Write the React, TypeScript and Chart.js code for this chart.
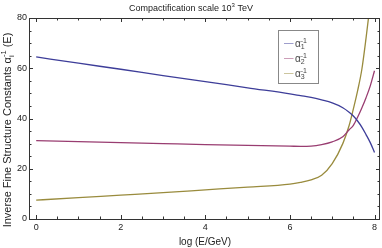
import React, { useEffect, useRef } from "react";
import { Chart, registerables } from "chart.js";

Chart.register(...registerables);

// ---- data ----
const LOG_E = [0, 1, 2, 3, 4, 5, 6, 6.25, 6.5, 6.75, 7, 7.25, 7.4, 7.5, 7.6, 7.7, 7.8, 7.9, 8];
const ALPHA1_INV = [64.5, 62.0, 59.6, 57.1, 54.7, 52.2, 49.8, 49.1, 48.4, 47.4, 46.2, 44.3, 42.5, 41.0, 39.0, 36.6, 33.6, 30.4, 26.5];
const ALPHA2_INV = [31.2, 30.8, 30.4, 30.0, 29.6, 29.3, 29.0, 28.9, 29.0, 29.6, 30.7, 32.7, 35.5, 37.3, 40.5, 44.2, 48.3, 53.0, 59.0];
const ALPHA3_INV = [7.5, 8.5, 9.5, 10.5, 11.6, 12.7, 13.9, 14.6, 15.6, 17.4, 22.0, 30.0, 37.2, 43.8, 51.0, 59.5, 72.0, 86.0, 100.0];
const X_TICKS = [0, 2, 4, 6, 8];
const Y_TICKS = [0, 20, 40, 60, 80];
const SERIES_SUBSCRIPTS = ["1", "2", "3"];
const TITLE_MAIN = "Compactification scale 10";
const TITLE_SUP = "3";
const TITLE_END = " TeV";
const X_TITLE = "log (E/GeV)";
const Y_TITLE_PRE = "Inverse Fine Structure Constants ";
const Y_TITLE_POST = " (E)";

const COLORS = ["#3d3d99", "#993d71", "#998b3d"];
const LEGEND_COLORS = ["#9e9ecc", "#cc9eb8", "#ccc59e"];
const FONT = "'Liberation Sans', Arial, sans-serif";
const TEXT = "#222";
const FRAME = "#333";

function drawAlpha(ctx: CanvasRenderingContext2D, x: number, y: number, sub: string, big: number, small: number) {
  ctx.textBaseline = "alphabetic";
  ctx.textAlign = "left";
  ctx.font = `${big}px ${FONT}`;
  ctx.fillText("α", x, y);
  const aw = ctx.measureText("α").width;
  ctx.font = `${small}px ${FONT}`;
  ctx.fillText(sub, x + aw, y + small * 0.35);
  ctx.fillText("-1", x + aw, y - big * 0.45);
  const w = Math.max(ctx.measureText(sub).width, ctx.measureText("-1").width);
  return aw + w;
}

const decoPlugin = {
  id: "deco",
  afterDraw(chart: any) {
    const ctx: CanvasRenderingContext2D = chart.ctx;
    const { left, right, top, bottom } = chart.chartArea;
    const xs = chart.scales.x;
    const ys = chart.scales.y;
    ctx.save();
    ctx.strokeStyle = FRAME;
    ctx.lineWidth = 1;
    ctx.strokeRect(Math.round(left) + 0.5, Math.round(top) + 0.5, Math.round(right - left) - 1, Math.round(bottom - top));
    ctx.beginPath();
    for (let v = 0; v <= 8.001; v += 0.5) {
      const px = Math.round(xs.getPixelForValue(v)) + 0.5;
      const major = Math.abs(v - Math.round(v / 2) * 2) < 1e-6;
      const len = major ? 4 : 2.5;
      ctx.moveTo(px, bottom);
      ctx.lineTo(px, bottom - len);
      ctx.moveTo(px, top);
      ctx.lineTo(px, top + len);
    }
    for (let v = 0; v <= 80.001; v += 5) {
      const py = Math.round(ys.getPixelForValue(v)) + 0.5;
      const major = v % 20 === 0;
      const len = major ? 4 : 2.5;
      ctx.moveTo(left, py);
      ctx.lineTo(left + len, py);
      ctx.moveTo(right, py);
      ctx.lineTo(right - len, py);
    }
    ctx.stroke();

    ctx.fillStyle = TEXT;
    ctx.font = `9px ${FONT}`;
    const w1 = ctx.measureText(TITLE_MAIN).width;
    ctx.font = `6px ${FONT}`;
    const w2 = ctx.measureText(TITLE_SUP).width;
    ctx.font = `9px ${FONT}`;
    const w3 = ctx.measureText(TITLE_END).width;
    const tx = 191 - (w1 + w2 + w3) / 2;
    ctx.textBaseline = "alphabetic";
    ctx.textAlign = "left";
    ctx.fillText(TITLE_MAIN, tx, 10.5);
    ctx.font = `6px ${FONT}`;
    ctx.fillText(TITLE_SUP, tx + w1, 6.5);
    ctx.font = `9px ${FONT}`;
    ctx.fillText(TITLE_END, tx + w1 + w2, 10.5);

    ctx.font = `10px ${FONT}`;
    ctx.textAlign = "center";
    ctx.textBaseline = "middle";
    ctx.fillText(X_TITLE, 205, 242);

    ctx.save();
    ctx.translate(7, 0);
    ctx.rotate(-Math.PI / 2);
    ctx.font = `11px ${FONT}`;
    const p1 = ctx.measureText(Y_TITLE_PRE).width;
    const pa = ctx.measureText("α").width;
    ctx.font = `7.5px ${FONT}`;
    const ps = ctx.measureText("-1").width;
    ctx.font = `11px ${FONT}`;
    const p2 = ctx.measureText(Y_TITLE_POST).width;
    const total = p1 + pa + ps + p2;
    const cy = 130;
    let sx = -cy - total / 2;
    ctx.textAlign = "left";
    ctx.textBaseline = "alphabetic";
    ctx.fillText(Y_TITLE_PRE, sx, 4);
    sx += p1;
    sx += drawAlpha(ctx, sx, 4, "i", 11, 7.5);
    ctx.font = `11px ${FONT}`;
    ctx.fillText(Y_TITLE_POST, sx, 4);
    ctx.restore();

    ctx.fillStyle = "#fff";
    ctx.fillRect(278.5, 30.5, 40, 53);
    ctx.strokeStyle = "#888";
    ctx.lineWidth = 1;
    ctx.strokeRect(278.5, 30.5, 40, 53);
    for (let i = 0; i < 3; i++) {
      const ly = 43.5 + i * 15;
      ctx.strokeStyle = LEGEND_COLORS[i];
      ctx.lineWidth = 1;
      ctx.beginPath();
      ctx.moveTo(284, ly);
      ctx.lineTo(293.5, ly);
      ctx.stroke();
      ctx.fillStyle = "#444";
      drawAlpha(ctx, 295, ly + 3.5, SERIES_SUBSCRIPTS[i], 10, 7);
    }
    ctx.restore();
  },
};

export default function App() {
  const ref = useRef<HTMLCanvasElement>(null);
  useEffect(() => {
    document.body.style.margin = "0";
    const canvas = ref.current;
    if (!canvas) return;
    const mk = (vals: number[], i: number) => ({
      label: `α${SERIES_SUBSCRIPTS[i]}⁻¹`,
      data: LOG_E.map((x, k) => ({ x, y: vals[k] })),
      borderColor: COLORS[i],
      backgroundColor: COLORS[i],
      borderWidth: 1.3,
      pointRadius: 0,
      fill: false,
      cubicInterpolationMode: "monotone" as const,
    });
    const chart = new Chart(canvas, {
      type: "line",
      data: { datasets: [mk(ALPHA1_INV, 0), mk(ALPHA2_INV, 1), mk(ALPHA3_INV, 2)] },
      options: {
        animation: false,
        responsive: false,
        layout: { padding: { top: 18, right: 2, left: 0, bottom: 0 } },
        plugins: { legend: { display: false }, title: { display: false }, tooltip: { enabled: false } },
        scales: {
          x: {
            type: "linear",
            min: -0.17,
            max: 8.13,
            grid: { display: false, drawTicks: false },
            border: { display: false },
            afterBuildTicks: (s: any) => {
              s.ticks = X_TICKS.map((v) => ({ value: v }));
            },
            afterFit: (s: any) => {
              s.height = 29;
            },
            ticks: { color: TEXT, font: { family: FONT, size: 9 }, padding: 3, maxRotation: 0, autoSkip: false },
          },
          y: {
            type: "linear",
            min: 0,
            max: 80,
            grid: { display: false, drawTicks: false },
            border: { display: false },
            afterBuildTicks: (s: any) => {
              s.ticks = Y_TICKS.map((v) => ({ value: v }));
            },
            afterFit: (s: any) => {
              s.width = 29;
            },
            ticks: { color: TEXT, font: { family: FONT, size: 9 }, padding: 2, autoSkip: false },
          },
        },
      },
      plugins: [decoPlugin],
    });
    return () => chart.destroy();
  }, []);
  return (
    <div style={{ width: 382, height: 248 }}>
      <canvas ref={ref} width={382} height={248} style={{ display: "block" }} />
    </div>
  );
}
